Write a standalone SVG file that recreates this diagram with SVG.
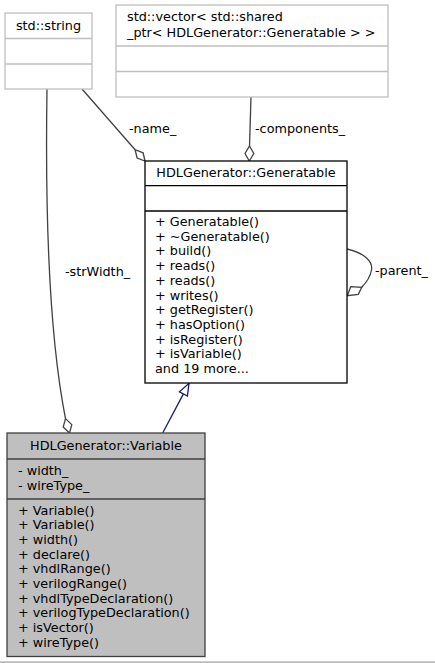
<svg xmlns="http://www.w3.org/2000/svg" width="435" height="663" viewBox="0 0 435 663">
<style>
text{font-family:"DejaVu Sans","Liberation Sans",sans-serif;font-size:12.8px;fill:#000}
.grey rect,.grey line{stroke:#bfbfbf;stroke-width:1.3;fill:#fff}
.main rect,.main line{stroke:#000;stroke-width:1.3;fill:#fff}
.cur rect{fill:#bfbfbf;stroke:#404040;stroke-width:1.3}
.cur line{stroke:#404040;stroke-width:1.3}
.edge{fill:none;stroke:#404040;stroke-width:1.3}
.dia{fill:#fff;stroke:#404040;stroke-width:1.3}
.inh{fill:none;stroke:#191970;stroke-width:1.3}
.tri{fill:#fff;stroke:#191970;stroke-width:1.3}
.c{text-anchor:middle}
</style>
<rect width="435" height="663" fill="#fff"/>
<g id="connectors">
<path class="edge" d="M47,89 C45,220 50,340 65.5,418.6"/>
<polygon class="dia" points="69.5,433 71.8,424.6 65.5,418.6 63.2,427"/>
<text x="65" y="276">-strWidth_</text>
<path class="edge" d="M82,89 L135.1,149.7"/>
<polygon class="dia" points="145,161 143.1,152.8 135.1,149.7 137.1,158"/>
<text x="129" y="132.5">-name_</text>
<path class="edge" d="M251,97 L249.5,146"/>
<polygon class="dia" points="249.3,161 253.8,153.5 249.5,146 245,153.5"/>
<text x="255" y="132.5">-components_</text>
<path class="edge" d="M347,249 C365,253 373,262 371.5,270 C370,278 366,283 361.7,287.3"/>
<polygon class="dia" points="361.7,287.3 358.3,294.3 347.3,295.7 350.7,286.7"/>
<text x="375" y="274.5">-parent_</text>
<path class="inh" d="M162.7,433 L183.4,393.9"/>
<polygon class="tri" points="189,383.3 187.4,396 179.4,391.8"/>
</g>
<g id="std_string" class="grey">
<rect x="5" y="13" width="87" height="76"/>
<line x1="5" y1="38.5" x2="92" y2="38.5"/>
<line x1="5" y1="64" x2="92" y2="64"/>
<text class="c" x="48.5" y="29.5">std::string</text>
</g>
<g id="std_vector" class="grey">
<rect x="116" y="5" width="272" height="92"/>
<line x1="116" y1="46" x2="388" y2="46"/>
<line x1="116" y1="71.5" x2="388" y2="71.5"/>
<text x="127" y="21">std::vector&lt; std::shared</text>
<text x="127" y="37">_ptr&lt; HDLGenerator::Generatable &gt; &gt;</text>
</g>
<g id="Generatable" class="main">
<rect x="145" y="161" width="202" height="222"/>
<line x1="145" y1="185.7" x2="347" y2="185.7"/>
<line x1="145" y1="211" x2="347" y2="211"/>
<text class="c" x="246" y="177">HDLGenerator::Generatable</text>
<text x="155" y="226">+ Generatable()</text>
<text x="155" y="240.7">+ ~Generatable()</text>
<text x="155" y="255.4">+ build()</text>
<text x="155" y="270.1">+ reads()</text>
<text x="155" y="284.8">+ reads()</text>
<text x="155" y="299.5">+ writes()</text>
<text x="155" y="314.2">+ getRegister()</text>
<text x="155" y="328.9">+ hasOption()</text>
<text x="155" y="343.6">+ isRegister()</text>
<text x="155" y="358.3">+ isVariable()</text>
<text x="155" y="373">and 19 more...</text>
</g>
<g id="Variable" class="cur">
<rect x="7" y="433" width="198" height="223.5"/>
<line x1="7" y1="459" x2="205" y2="459"/>
<line x1="7" y1="499" x2="205" y2="499"/>
<text class="c" x="106" y="449.5">HDLGenerator::Variable</text>
<text x="18" y="474.5">- width_</text>
<text x="18" y="490">- wireType_</text>
<text x="18" y="514.5">+ Variable()</text>
<text x="18" y="529.2">+ Variable()</text>
<text x="18" y="543.8">+ width()</text>
<text x="18" y="558.5">+ declare()</text>
<text x="18" y="573.2">+ vhdlRange()</text>
<text x="18" y="587.8">+ verilogRange()</text>
<text x="18" y="602.5">+ vhdlTypeDeclaration()</text>
<text x="18" y="617.2">+ verilogTypeDeclaration()</text>
<text x="18" y="631.8">+ isVector()</text>
<text x="18" y="646.5">+ wireType()</text>
</g>
<line x1="0" y1="662.2" x2="435" y2="662.2" stroke="#a0a0a0" stroke-width="1.3"/>
</svg>
